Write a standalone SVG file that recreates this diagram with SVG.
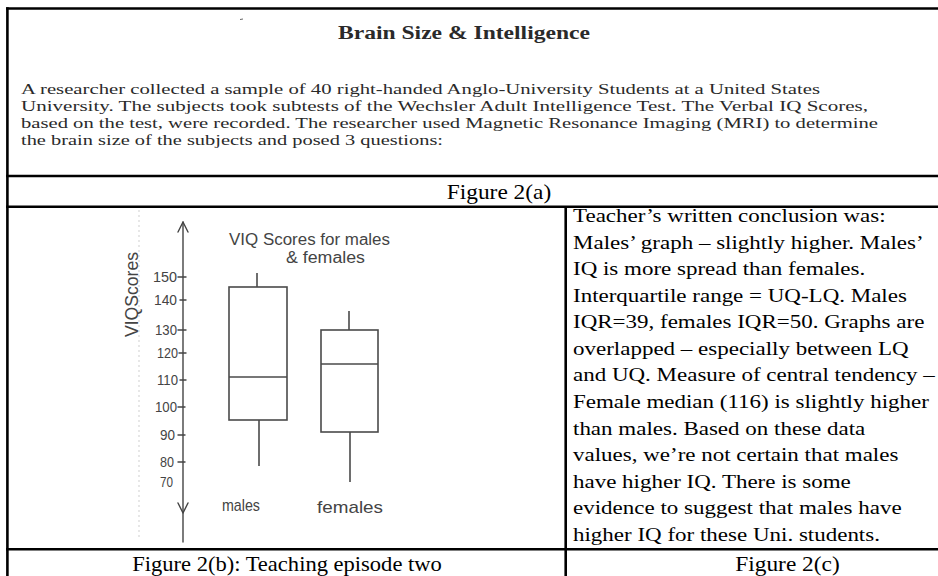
<svg xmlns="http://www.w3.org/2000/svg" width="938" height="576" viewBox="0 0 938 576">
<style>
.rule{stroke:#000;stroke-width:2.6;fill:none}
.scan{font-family:"Liberation Serif","Times New Roman",serif;fill:#2a2a2a}
.body{font-family:"Liberation Serif","Times New Roman",serif;fill:#000;font-size:19px}
.cap{font-family:"Liberation Serif","Times New Roman",serif;fill:#000;font-size:20.5px}
.hand{font-family:"Liberation Sans",Arial,sans-serif;fill:#444}
.pen{stroke:#444;stroke-width:1.4;fill:none;stroke-linecap:round;stroke-linejoin:round}
.box{stroke:#4a4a4a;stroke-width:1.6;fill:none}
</style>
<rect width="938" height="576" fill="#fff"/>
<g id="table">
  <line class="rule" x1="6.1" y1="8.5" x2="938" y2="8.5"/>
  <line class="rule" x1="7.4" y1="7.2" x2="7.4" y2="576"/>
  <line class="rule" x1="6.1" y1="176" x2="938" y2="176"/>
  <line class="rule" x1="6.1" y1="206.8" x2="938" y2="206.8"/>
  <line class="rule" x1="6.1" y1="549.3" x2="938" y2="549.3"/>
  <line class="rule" x1="565.7" y1="206.8" x2="565.7" y2="576"/>
</g>
<g id="intro">
  <line x1="240" y1="19.5" x2="243" y2="19" stroke="#666" stroke-width="1"/>
  <text class="scan" x="338" y="39" font-size="18" font-weight="bold" textLength="252" lengthAdjust="spacingAndGlyphs">Brain Size &amp; Intelligence</text>
  <text class="scan" x="21" y="94" font-size="15.5" textLength="799" lengthAdjust="spacingAndGlyphs">A researcher collected a sample of 40 right-handed Anglo-University Students at a United States</text>
  <text class="scan" x="21" y="111" font-size="15.5" textLength="847" lengthAdjust="spacingAndGlyphs">University. The subjects took subtests of the Wechsler Adult Intelligence Test. The Verbal IQ Scores,</text>
  <text class="scan" x="21" y="128" font-size="15.5" textLength="857" lengthAdjust="spacingAndGlyphs">based on the test, were recorded. The researcher used Magnetic Resonance Imaging (MRI) to determine</text>
  <text class="scan" x="21" y="145" font-size="15.5" textLength="422" lengthAdjust="spacingAndGlyphs">the brain size of the subjects and posed 3 questions:</text>
</g>
<g id="caption-a" transform="translate(499 0) scale(1.14 1)">
  <text class="cap" x="0" y="199" text-anchor="middle">Figure 2(a)</text>
</g>
<g id="plot">
  <line x1="139" y1="210" x2="139" y2="540" stroke="#cfcfcf" stroke-width="1" stroke-dasharray="2 3"/>
  <g id="axis">
    <path class="pen" d="M183 222 L183 542"/>
    <path class="pen" d="M178 232 L183 222 L188 232"/>
    <path class="pen" d="M178 503 L183 513 L188 503"/>
    <path class="pen" d="M178 277 H186 M180 300 H186 M178 330 H186 M179 353 H186 M180 380 H186 M178 407 H185 M178 435 H185 M178 462 H185"/>
  </g>
  <g id="ticklabels" class="hand" font-size="14" text-anchor="end">
    <text x="177" y="282" textLength="24" lengthAdjust="spacingAndGlyphs">150</text>
    <text x="177" y="305" textLength="23" lengthAdjust="spacingAndGlyphs">140</text>
    <text x="177" y="335" textLength="22" lengthAdjust="spacingAndGlyphs">130</text>
    <text x="178" y="358" textLength="21" lengthAdjust="spacingAndGlyphs">120</text>
    <text x="178" y="385" textLength="21" lengthAdjust="spacingAndGlyphs">110</text>
    <text x="177" y="412" textLength="22" lengthAdjust="spacingAndGlyphs">100</text>
    <text x="175" y="440" textLength="15" lengthAdjust="spacingAndGlyphs">90</text>
    <text x="174" y="467" textLength="14" lengthAdjust="spacingAndGlyphs">80</text>
    <text x="173" y="487" textLength="13" lengthAdjust="spacingAndGlyphs">70</text>
  </g>
  <text class="hand" font-size="18" transform="translate(138 337) rotate(-90)" textLength="85" lengthAdjust="spacingAndGlyphs">VIQScores</text>
  <text class="hand" x="229" y="245" font-size="16" textLength="161" lengthAdjust="spacingAndGlyphs">VIQ Scores for males</text>
  <text class="hand" x="286" y="263" font-size="16" textLength="79" lengthAdjust="spacingAndGlyphs">&amp; females</text>
  <g id="males">
    <rect class="box" x="229" y="287" width="58" height="133"/>
    <line class="box" x1="229" y1="377" x2="287" y2="377"/>
    <line class="box" x1="257" y1="273" x2="257" y2="287"/>
    <line class="box" x1="259" y1="420" x2="259" y2="466"/>
    <text class="hand" x="222" y="511" font-size="17" textLength="38" lengthAdjust="spacingAndGlyphs">males</text>
  </g>
  <g id="females">
    <rect class="box" x="321" y="330" width="57" height="102"/>
    <line class="box" x1="321" y1="364" x2="378" y2="364"/>
    <line class="box" x1="349" y1="311" x2="349" y2="330"/>
    <line class="box" x1="350" y1="432" x2="350" y2="482"/>
    <text class="hand" x="317" y="513" font-size="17" textLength="66" lengthAdjust="spacingAndGlyphs">females</text>
  </g>
</g>
<g id="conclusion" class="body" transform="translate(573 0) scale(1.21 1)">
  <text x="0" y="222">Teacher’s written conclusion was:</text>
  <text x="0" y="248.6">Males’ graph – slightly higher. Males’</text>
  <text x="0" y="275.2">IQ is more spread than females.</text>
  <text x="0" y="301.7">Interquartile range = UQ-LQ. Males</text>
  <text x="0" y="328.3">IQR=39, females IQR=50. Graphs are</text>
  <text x="0" y="354.9">overlapped – especially between LQ</text>
  <text x="0" y="381.5">and UQ. Measure of central tendency –</text>
  <text x="0" y="408.1">Female median (116) is slightly higher</text>
  <text x="0" y="434.7">than males. Based on these data</text>
  <text x="0" y="461.3">values, we’re not certain that males</text>
  <text x="0" y="487.8">have higher IQ. There is some</text>
  <text x="0" y="514.4">evidence to suggest that males have</text>
  <text x="0" y="541">higher IQ for these Uni. students.</text>
</g>
<g id="caption-b" transform="translate(287 0) scale(1.1 1)">
  <text class="cap" x="0" y="571" text-anchor="middle">Figure 2(b): Teaching episode two</text>
</g>
<g id="caption-c" transform="translate(787.5 0) scale(1.14 1)">
  <text class="cap" x="0" y="571" text-anchor="middle">Figure 2(c)</text>
</g>
</svg>
